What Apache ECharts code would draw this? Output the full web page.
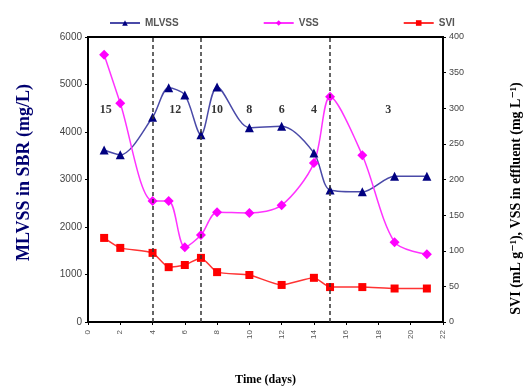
<!DOCTYPE html>
<html>
<head>
<meta charset="utf-8">
<script src="https://cdn.jsdelivr.net/npm/echarts@6/dist/echarts.min.js"></script>
<style>
  html, body { margin: 0; padding: 0; background: #fff; }
  #chart { width: 524px; height: 392px; }
</style>
</head>
<body>
<div id="chart"></div>
<script>
// days of sampling
const days = [1, 2, 4, 5, 6, 7, 8, 10, 12, 14, 15, 17, 19, 21];
// MLVSS in SBR (mg/L), left axis
const mlvss = [3620, 3520, 4310, 4930, 4780, 3940, 4950, 4090, 4120, 3560, 2780, 2740, 3070, 3070];
// VSS in effluent (mg/L), right axis
const vss = [375, 307, 170, 170, 105, 122, 154, 153, 164, 223, 316, 234, 112, 95];
// SVI (mL/g), right axis
const svi = [118, 104, 97, 77, 80, 90, 70, 66, 52, 62, 49, 49, 47, 47];
// phase boundaries (days)
const phaseLines = [4, 7, 15];
// phase annotations (HRT) and their positions
const phaseLabels = ['15', '12', '10', '8', '6', '4', '3'];
const phaseLabelDays = [1.1, 5.4, 8, 10, 12, 14, 18.6];
const phaseLabelY = 4460;

const serif = '"Liberation Serif", "DejaVu Serif", serif';

const chart = echarts.init(document.getElementById('chart'));
chart.setOption({
  animation: false,
  legend: {
    top: 13,
    left: 104,
    itemGap: 84,
    itemWidth: 30,
    itemHeight: 7,
    textStyle: { fontSize: 10, fontWeight: 'bold', color: '#555', fontFamily: '"Liberation Sans Narrow", "Liberation Sans", Arial' },
    data: ['MLVSS', 'VSS', 'SVI']
  },
  grid: {
    left: 88, right: 81, top: 37, bottom: 70,
    outerBoundsMode: 'none',
    containLabel: false,
    show: true, borderColor: '#000', borderWidth: 2
  },
  xAxis: {
    type: 'value',
    min: 0, max: 22, interval: 2,
    name: 'Time (days)',
    nameLocation: 'middle',
    nameGap: 52,
    nameTextStyle: { fontFamily: serif, fontWeight: 'bold', fontSize: 12, color: '#000' },
    axisLine: { lineStyle: { color: '#000', width: 2 } },
    axisTick: { inside: false, length: 3, lineStyle: { color: '#000' } },
    axisLabel: { rotate: 90, fontSize: 8, color: '#555', margin: 8 },
    splitLine: { show: false }
  },
  yAxis: [
    {
      type: 'value',
      min: 0, max: 6000, interval: 1000,
      name: 'MLVSS in SBR (mg/L)',
      nameLocation: 'middle',
      nameGap: 55,
      nameRotate: 90,
      nameTextStyle: { fontFamily: serif, fontWeight: 'bold', fontSize: 18, color: '#000070', padding: [0, 0, 0, 14] },
      axisLine: { show: true, lineStyle: { color: '#000', width: 2 } },
      axisTick: { show: true, length: 3, lineStyle: { color: '#000' } },
      axisLabel: { fontSize: 10, color: '#444', margin: 6, formatter: v => String(v) },
      splitLine: { show: false }
    },
    {
      type: 'value',
      min: 0, max: 400, interval: 50,
      name: 'SVI (mL g\u207B\u00B9), VSS in effluent (mg L\u207B\u00B9)',
      nameLocation: 'middle',
      nameGap: 66,
      nameRotate: 90,
      nameTextStyle: { fontFamily: serif, fontWeight: 'bold', fontSize: 14, color: '#000', padding: [0, 38, 0, 0] },
      axisLine: { show: true, lineStyle: { color: '#000', width: 2 } },
      axisTick: { show: true, length: 3, lineStyle: { color: '#000' } },
      axisLabel: { fontSize: 9, color: '#444', margin: 6 },
      splitLine: { show: false }
    }
  ],
  series: [
    {
      name: 'MLVSS',
      type: 'line',
      yAxisIndex: 0,
      smooth: 0.3,
      data: days.map((d, i) => [d, mlvss[i]]),
      symbol: 'triangle',
      symbolSize: 9,
      lineStyle: { color: '#4a4aa8', width: 1.5 },
      itemStyle: { color: '#000080' },
      markLine: {
        silent: true,
        symbol: 'none',
        label: { show: false },
        lineStyle: { color: '#333', type: [4, 3], width: 1.5 },
        data: phaseLines.map(d => ({ xAxis: d }))
      }
    },
    {
      name: 'VSS',
      type: 'line',
      yAxisIndex: 1,
      smooth: 0.3,
      data: days.map((d, i) => [d, vss[i]]),
      symbol: 'diamond',
      symbolSize: 10,
      lineStyle: { color: '#ff33ff', width: 1.5 },
      itemStyle: { color: '#ff00ff' }
    },
    {
      name: 'SVI',
      type: 'line',
      yAxisIndex: 1,
      smooth: 0.2,
      data: days.map((d, i) => [d, svi[i]]),
      symbol: 'rect',
      symbolSize: 8,
      lineStyle: { color: '#ff3333', width: 1.5 },
      itemStyle: { color: '#ff0000' }
    },
    {
      name: 'phases',
      type: 'scatter',
      yAxisIndex: 0,
      symbolSize: 0,
      silent: true,
      data: phaseLabelDays.map((d, i) => ({ value: [d, phaseLabelY], name: phaseLabels[i] })),
      label: {
        show: true,
        position: 'inside',
        formatter: p => p.name,
        fontFamily: serif,
        fontWeight: 'bold',
        fontSize: 12,
        color: '#000'
      }
    }
  ]
});
</script>
</body>
</html>
